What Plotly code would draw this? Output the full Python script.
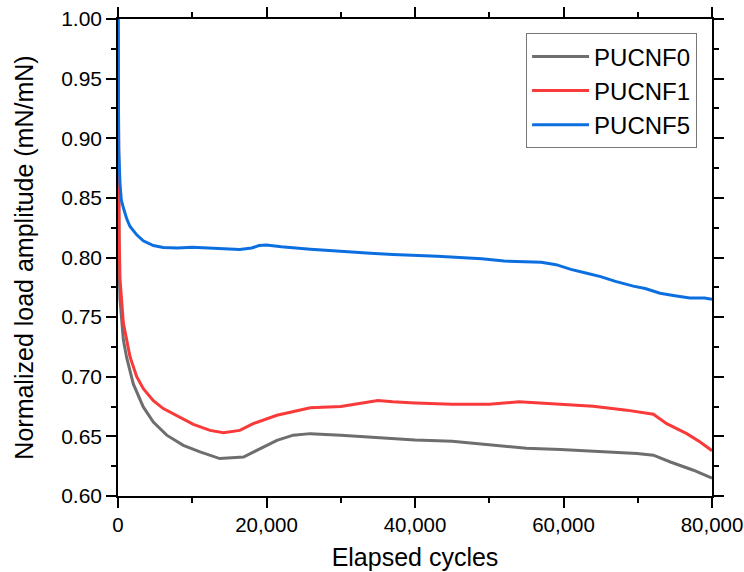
import plotly.graph_objects as go

# ---- data ----
x_f0 = [0, 20, 60, 150, 270, 720, 1170, 2060, 3400, 4760, 6560, 8800, 11050, 13700,
        16900, 19100, 21400, 23600, 25900, 30000, 35000, 40000, 45000, 50000, 55000,
        59600, 64000, 69900, 72100, 74400, 77500, 80000]
y_f0 = [1.00, 0.92, 0.84, 0.79, 0.765, 0.731, 0.716, 0.694, 0.6747, 0.662, 0.651, 0.6425,
        0.637, 0.6314, 0.6327, 0.6398, 0.6467, 0.651, 0.6523, 0.651, 0.649, 0.647, 0.646,
        0.643, 0.640, 0.639, 0.6378, 0.6356, 0.6342, 0.6285, 0.6216, 0.615]

x_f1 = [0, 20, 70, 150, 270, 720, 1620, 2520, 3410, 4760, 6100, 7900, 10150, 12400, 14200,
        16400, 18200, 21400, 25900, 30000, 33000, 35000, 37000, 40000, 45000, 50000, 54000,
        57000, 59500, 64000, 68500, 72100, 73900, 76600, 78400, 80000]
y_f1 = [1.00, 0.93, 0.876, 0.82, 0.782, 0.745, 0.7167, 0.700, 0.690, 0.680, 0.6733, 0.6677,
        0.660, 0.655, 0.653, 0.655, 0.6607, 0.6677, 0.674, 0.675, 0.678, 0.680, 0.679, 0.678,
        0.677, 0.677, 0.679, 0.678, 0.677, 0.6753, 0.672, 0.6686, 0.6607, 0.6523, 0.6453, 0.638]

x_f5 = [0, 30, 100, 270, 450, 800, 1200, 1620, 2520, 3400, 4760, 6100, 8000, 10000, 12000,
        14000, 16400, 18000, 19000, 20000, 22000, 25900, 28000, 31000, 34000, 37000, 40000,
        43000, 46000, 49000, 52000, 55000, 57000, 59000, 61000, 63000, 65000, 67000, 69400,
        71000, 73000, 75000, 77000, 79000, 80000]
y_f5 = [1.00, 0.93, 0.89, 0.862, 0.848, 0.84, 0.832, 0.826, 0.819, 0.814, 0.810, 0.8084,
        0.808, 0.8085, 0.808, 0.8075, 0.8067, 0.808, 0.810, 0.8105, 0.809, 0.807, 0.806,
        0.805, 0.8035, 0.8025, 0.802, 0.801, 0.800, 0.799, 0.797, 0.7965, 0.796, 0.794,
        0.790, 0.787, 0.784, 0.780, 0.776, 0.774, 0.770, 0.768, 0.766, 0.766, 0.765]

names = ["PUCNF0", "PUCNF1", "PUCNF5"]
colors = ["#6e6e6e", "#f93a3a", "#0c6fe0"]

x_ticks = [0, 20000, 40000, 60000, 80000]
y_ticks = [0.60, 0.65, 0.70, 0.75, 0.80, 0.85, 0.90, 0.95, 1.00]

FONT = "Liberation Sans, Arial, sans-serif"

fig = go.Figure()
for xs, ys, nm, c in zip([x_f0, x_f1, x_f5], [y_f0, y_f1, y_f5], names, colors):
    fig.add_trace(go.Scatter(x=xs, y=ys, mode="lines", name=nm,
                             line=dict(color=c, width=3)))

common_x = dict(range=[0, 80000], tickvals=x_ticks, ticktext=[f"{v:,}" for v in x_ticks],
                showgrid=False, zeroline=False, automargin=False)
common_y = dict(range=[0.60, 1.00], tickvals=y_ticks, ticktext=[f"{v:.2f}" for v in y_ticks],
                showgrid=False, zeroline=False, automargin=False)

fig.update_layout(
    template="none",
    width=744, height=572,
    margin=dict(l=118, r=32, t=19, b=76),
    paper_bgcolor="white", plot_bgcolor="white",
    font=dict(family=FONT, size=21, color="black"),
    xaxis=dict(**common_x, showline=True, linecolor="black", linewidth=1.6, mirror="ticks",
               ticks="outside", ticklen=10, tickwidth=1.6, tickcolor="black",
               tickfont=dict(size=20.5), ticklabeloverflow="allow",
               minor=dict(dtick=10000, tick0=0, ticks="outside", ticklen=5, tickwidth=1.6,
                          tickcolor="black", showgrid=False),
               title=dict(text="Elapsed cycles", font=dict(size=25), standoff=13)),
    yaxis=dict(**common_y, showline=True, linecolor="black", linewidth=1.6, mirror="ticks",
               ticks="outside", ticklen=10, tickwidth=1.6, tickcolor="black",
               tickfont=dict(size=21),
               minor=dict(dtick=0.025, tick0=0.6, ticks="outside", ticklen=5, tickwidth=1.6,
                          tickcolor="black", showgrid=False),
               title=dict(text="Normalized load amplitude (mN/mN)", font=dict(size=25),
                          standoff=20)),
    xaxis2=dict(**common_x, overlaying="x", anchor="y2", side="bottom", showline=False,
                mirror="ticks", ticks="inside", ticklen=9, tickwidth=1.6, tickcolor="black",
                showticklabels=False,
                minor=dict(dtick=10000, tick0=0, ticks="inside", ticklen=5, tickwidth=1.6,
                           tickcolor="black", showgrid=False)),
    yaxis2=dict(**common_y, overlaying="y", anchor="x2", side="left", showline=False,
                mirror="ticks", ticks="inside", ticklen=9, tickwidth=1.6, tickcolor="black",
                showticklabels=False,
                minor=dict(dtick=0.025, tick0=0.6, ticks="inside", ticklen=5, tickwidth=1.6,
                           tickcolor="black", showgrid=False)),
    legend=dict(x=0.687, y=0.970, xanchor="left", yanchor="top",
                bgcolor="white", bordercolor="#777777", borderwidth=1,
                font=dict(size=24), tracegroupgap=0, itemwidth=57),
    showlegend=True,
)

fig.write_html("out.html", config={"displayModeBar": False},
               post_script="document.body.style.margin='0';document.body.style.overflow='hidden';")
